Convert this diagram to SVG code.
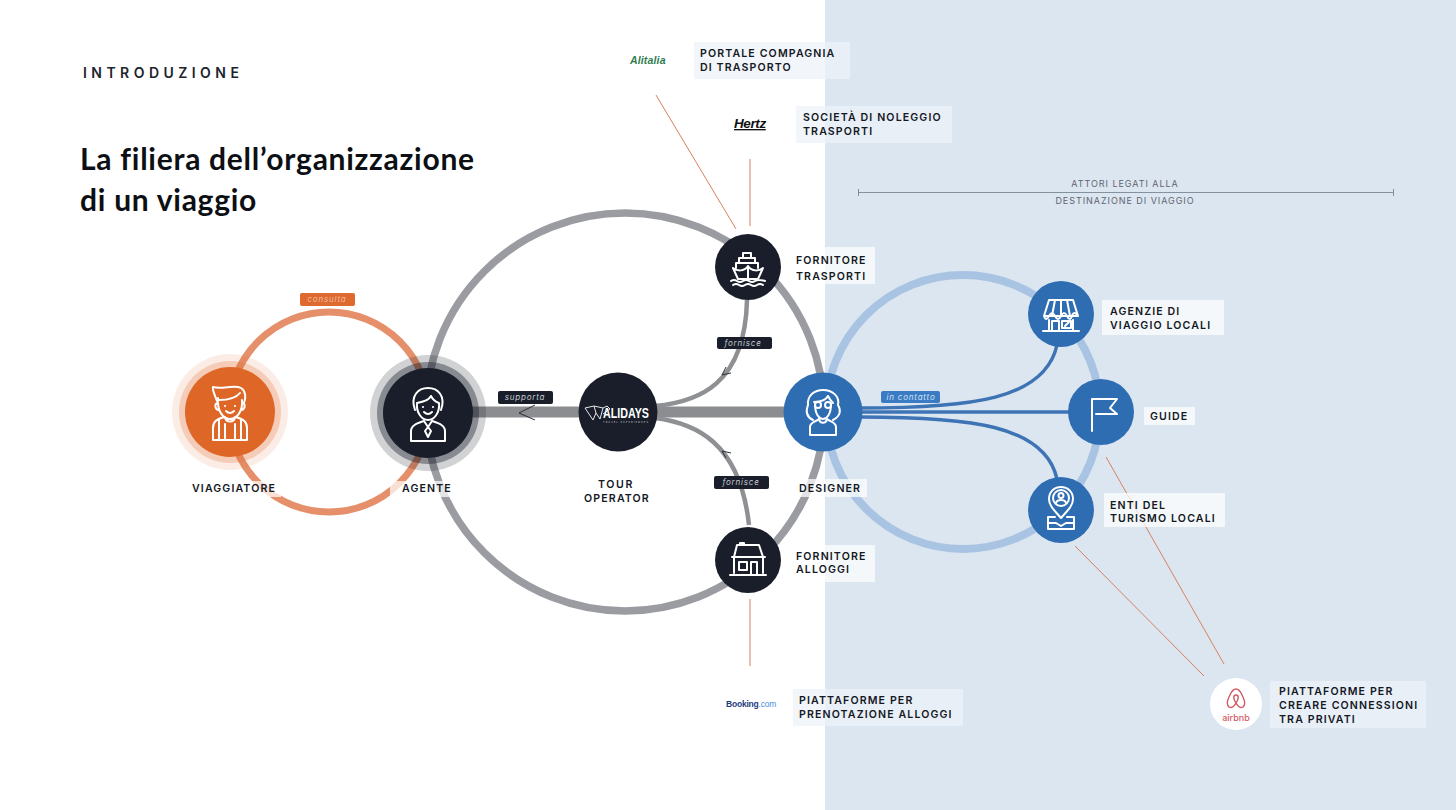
<svg xmlns="http://www.w3.org/2000/svg" width="1456" height="810" viewBox="0 0 1456 810">
<style>
text{font-family:Inter,"Liberation Sans",sans-serif}
.lb{font-size:10.6px;font-weight:600;letter-spacing:1.12px;fill:#14181f}
.box{fill:#fff;fill-opacity:.72}
.box2{fill:#eef2f8;fill-opacity:.75}
.mid{text-anchor:middle}
.tag{font-size:8px;font-style:italic;letter-spacing:.8px;text-anchor:middle;fill:#c6cad2}
.ic{fill:none;stroke:#fff;stroke-width:2;stroke-linejoin:round;stroke-linecap:round}
.red{stroke:#d9805c;stroke-width:1;fill:none}
.dk{fill:#191e2a}.bl{fill:#2f6db3}
.fl{fill:none;stroke:#3e74b5;stroke-width:3.5}
.gr{fill:none;stroke:#8e9094}
.ah{fill:none;stroke:#2a2e36;stroke-width:1}
.cap{font-size:9px;letter-spacing:.95px;fill:#5d6570;text-anchor:middle}
</style>
<rect width="1456" height="810" fill="#fff"/>
<rect x="825" y="0" width="631" height="810" fill="#dce6f1"/>
<text x="83" y="78" style="font-size:14px;font-weight:600;letter-spacing:4.45px;fill:#20242c">INTRODUZIONE</text>
<text x="80" y="170" style="font-family:Lato,sans-serif;font-size:30px;font-weight:700;letter-spacing:.73px;fill:#0c0f14">La filiera dell’organizzazione</text>
<text x="80" y="211" style="font-family:Lato,sans-serif;font-size:30px;font-weight:700;letter-spacing:.73px;fill:#0c0f14">di un viaggio</text>

<g id="connectors">
<circle cx="329" cy="412" r="100" fill="none" stroke="#e5906a" stroke-width="7"/>
<circle cx="625" cy="412" r="199" fill="none" stroke="#9a9ca1" stroke-width="7.500"/>
<circle cx="963" cy="412" r="137" fill="none" stroke="#a9c4e3" stroke-width="8"/>
<path class="gr" d="M470 412H786" stroke-width="11" style="stroke:#8b8d91"/>
<path class="gr" stroke-width="4.500" d="M655 406C698 402 745 385 747 300"/>
<path class="gr" stroke-width="4.500" d="M655 418C695 423 740 442 749 525"/>
<path class="ah" d="M535 405L519 413L535 420"/>
<path class="ah" d="M726 367L722 375L731 373"/>
<path class="ah" d="M726 458L722 451L731 453"/>
<path class="fl" d="M860 408C970 408 1045 400 1057 345"/>
<path class="fl" d="M860 412H1070"/>
<path class="fl" d="M860 417C970 417 1045 425 1057 479"/>
<path class="red" d="M656 95L736 229M750 159V226M750 599V666M1106 457L1224 664M1075 546L1204 676"/>
<path d="M858.500 189V196M858 192.500H1393M1393.500 189V196" fill="none" stroke="#6f7a88" stroke-width=".8"/>
</g>

<g id="tags">
<rect x="300" y="293" width="55" height="13" rx="2" fill="#de6a2f"/><text class="tag" x="327" y="302" style="fill:#f0b89b">consulta</text>
<rect x="498" y="391" width="55" height="13" rx="2" class="dk"/><text class="tag" x="525" y="400">supporta</text>
<rect x="717" y="337" width="55" height="12" rx="2" class="dk"/><text class="tag" x="743" y="346">fornisce</text>
<rect x="714" y="476" width="55" height="13" rx="2" class="dk"/><text class="tag" x="741" y="485">fornisce</text>
<rect x="881" y="391" width="59" height="12" rx="2" fill="#3a7bc4"/><text class="tag" x="911" y="400" style="fill:#cfe0f3">in contatto</text>
</g>

<g id="viaggiatore">
<circle cx="230" cy="412" r="58" fill="#de6a2f" opacity=".12"/><circle cx="230" cy="412" r="51" fill="#de6a2f" opacity=".25"/>
<circle cx="230" cy="412" r="45" fill="#de6626"/>
<path class="ic" d="M217 401C215 395 212 390 213 387C222 390 234 384 241 388C246 391 246 398 244 403M218 398C217 411 223 419 230 419C237 419 243 411 242 400M219 400C228 400 236 398 240 393M218 403C214 403 215 409 218 410M242 403C246 403 245 409 242 410M225 417C216 419 213 422 213 428V440H247V428C247 422 244 419 235 417M225 417C226 423 234 423 235 417M219 420V440M225 424V440M235 424V440M241 420V440"/>
<circle cx="225" cy="406" r="1.100" fill="#fff"/><circle cx="235" cy="406" r="1.100" fill="#fff"/>
<path class="ic" d="M226 411Q230 415 234 411" stroke-width="1.500"/>
<rect x="188" y="481" width="93" height="16" fill="#fff" fill-opacity=".72"/>
<text class="lb mid" x="234" y="492">VIAGGIATORE</text>
</g>

<g id="agente">
<circle cx="428" cy="413" r="58" fill="#191e2a" opacity=".2"/><circle cx="428" cy="413" r="51" fill="#191e2a" opacity=".4"/>
<circle cx="428" cy="413" r="45" class="dk"/>
<path class="ic" d="M415 410C410 396 418 388 428 388C438 388 446 396 441 410M417 403C416 413 422 420 428 420C434 420 440 413 439 403M417 403C423 402 429 400 431 396C433 400 436 402 439 403M411 441V431C411 425 418 423 424 421L428 427L432 421C438 423 445 425 445 431V441ZM428 427L425 431L428 437L431 431Z"/>
<circle cx="423" cy="407" r="1.100" fill="#fff"/><circle cx="433" cy="407" r="1.100" fill="#fff"/>
<path class="ic" d="M424 412Q428 416 432 412" stroke-width="1.500"/>
<rect x="390" y="481" width="68" height="16" fill="#fff" fill-opacity=".72"/>
<text class="lb mid" x="427" y="492">AGENTE</text>
</g>

<g id="tour-operator">
<circle cx="618" cy="412" r="39.500" class="dk"/>
<path d="M585 408L594 406L603 408L600 419L596 413L593 420L589 414ZM594 406L596 413M603 408L607 406L610 409L603 414" fill="none" stroke="#e6e7ea" stroke-width="1"/>
<text x="603" y="418" textLength="46" lengthAdjust="spacingAndGlyphs" style="font-family:'Liberation Sans',sans-serif;font-size:15.500px;font-weight:700;fill:#fff">ALIDAYS</text>
<text x="603" y="422.500" textLength="45" lengthAdjust="spacing" style="font-size:2.500px;fill:#c9ccd2">TRAVEL EXPERIENCES</text>
<text class="lb mid" x="616" y="488" style="letter-spacing:1.600px">TOUR</text>
<text class="lb mid" x="617" y="502">OPERATOR</text>
</g>

<g id="designer">
<circle cx="823" cy="412" r="39.500" class="bl"/>
<path class="ic" d="M813 420C805 416 806 410 808 405C807 395 815 390 823 390C832 390 840 396 838 405C841 410 841 416 833 420M814 402C820 402 826 400 828 396C830 400 832 402 833 403M815 404C815 414 819 419 823 419C827 419 831 414 831 404M810 435V427C810 422 816 422 819 419C820 424 826 424 827 419C830 422 836 422 836 427V435Z"/>
<circle cx="818" cy="405" r="3" class="ic" stroke-width="1.200"/><circle cx="828" cy="405" r="3" class="ic" stroke-width="1.200"/>
<rect x="795" y="479" width="72" height="18" class="box"/>
<text class="lb" x="799" y="492">DESIGNER</text>
</g>

<g id="fornitore-trasporti">
<circle cx="748" cy="267" r="33" class="dk"/>
<path class="ic" stroke-width="1.500" d="M743 253H751V258H743ZM739 263V258H755V263M736 268V263H758V268M733 268C737 271 744 272 748 266C752 272 759 271 763 268L758 279H738ZM748 266V279M731 281Q734 279 737 281T743 281T749 281T755 281T765 281M733 285Q736 283 739 285T745 285T751 285T757 285T763 285"/>
<rect x="790" y="247" width="85" height="37" class="box"/>
<text class="lb" x="796" y="264">FORNITORE</text><text class="lb" x="796" y="280">TRASPORTI</text>
</g>

<g id="fornitore-alloggi">
<circle cx="748" cy="560" r="33" class="dk"/>
<path class="ic" d="M734 573V557L737 545H759L763 557V573M732 557H765M730 575H766M739 562H747V570H739ZM751 575V562H757V575M740 545V543H744V545"/>
<rect x="790" y="545" width="85" height="37" class="box"/>
<text class="lb" x="796" y="560">FORNITORE</text><text class="lb" x="796" y="573">ALLOGGI</text>
</g>

<g id="alitalia">
<text x="630" y="64" style="font-family:'Liberation Sans',sans-serif;font-size:10.500px;font-weight:700;font-style:italic;letter-spacing:.15px;fill:#2f7d4f">Alitalia</text>
<rect x="694" y="42" width="156" height="37" class="box2"/>
<text class="lb" x="700" y="57">PORTALE COMPAGNIA</text><text class="lb" x="700" y="71">DI TRASPORTO</text>
</g>

<g id="hertz">
<text x="734" y="128" style="font-family:'Liberation Sans',sans-serif;font-size:13.500px;font-weight:700;font-style:italic;letter-spacing:-.4px;fill:#111;text-decoration:underline">Hertz</text>
<rect x="796" y="106" width="156" height="37" class="box2"/>
<text class="lb" x="803" y="121">SOCIETÀ DI NOLEGGIO</text><text class="lb" x="803" y="135">TRASPORTI</text>
</g>

<g id="booking">
<text x="726" y="707" style="font-family:'Liberation Sans',sans-serif;font-size:8.500px;font-weight:700;letter-spacing:-.2px;fill:#1e3c7d">Booking<tspan fill="#3f8fd8" font-weight="400">.com</tspan></text>
<rect x="793" y="689" width="170" height="37" class="box2"/>
<text class="lb" x="799" y="704">PIATTAFORME PER</text><text class="lb" x="799" y="718">PRENOTAZIONE ALLOGGI</text>
</g>

<g id="destinazione">
<text class="cap" x="1125" y="187">ATTORI LEGATI ALLA</text>
<text class="cap" x="1125" y="204">DESTINAZIONE DI VIAGGIO</text>
</g>

<g id="agenzie">
<circle cx="1061" cy="314" r="33" class="bl"/>
<path class="ic" stroke-width="1.500" d="M1049 300H1073L1078 316H1044ZM1044 316Q1046 322 1049 316T1055 316T1061 316T1067 316T1072 316T1078 316M1049 320V331M1073 320V331M1043 331H1079M1052 321H1059V331H1052ZM1062 321H1071V328H1062ZM1065 326L1069 322M1055 300L1052 316M1061 300V316M1067 300L1070 316"/>
<rect x="1102" y="300" width="122" height="35" class="box"/>
<text class="lb" x="1110" y="315">AGENZIE DI</text><text class="lb" x="1110" y="329">VIAGGIO LOCALI</text>
</g>

<g id="guide">
<circle cx="1101" cy="412" r="33" class="bl"/>
<path class="ic" d="M1092 431V399H1117L1110 408L1117 414H1096"/>
<rect x="1144" y="407" width="51" height="18" class="box"/>
<text class="lb" x="1150" y="420">GUIDE</text>
</g>

<g id="enti">
<circle cx="1061" cy="510" r="33" class="bl"/>
<path class="ic" stroke-width="1.600" d="M1061 518C1055 511 1049 506 1049 499C1049 492 1054 487 1061 487C1068 487 1073 492 1073 499C1073 506 1067 511 1061 518ZM1055 517H1048V529H1074V517H1067M1048 523H1056L1061 526L1066 523H1074"/>
<circle cx="1061" cy="498" r="8" class="ic" stroke-width="1.200"/><circle cx="1061" cy="495.500" r="2.500" class="ic" stroke-width="1.200"/><path class="ic" stroke-width="1.200" d="M1056 503C1057 499 1065 499 1066 503"/>
<rect x="1104" y="493" width="121" height="34" class="box"/>
<text class="lb" x="1110" y="509">ENTI DEL</text><text class="lb" x="1110" y="522">TURISMO LOCALI</text>
</g>

<g id="airbnb">
<circle cx="1236" cy="704" r="26" fill="#fff"/>
<path d="M1236 689C1232 689 1231 693 1229 697C1227 701 1226 704 1229 707C1232 709 1235 705 1236 703C1237 705 1240 709 1243 707C1246 704 1245 701 1243 697C1241 693 1240 689 1236 689ZM1236 703C1233 699 1233 695 1236 695C1239 695 1239 699 1236 703" fill="none" stroke="#d05a64" stroke-width="1.400"/>
<text x="1236" y="721" text-anchor="middle" style="font-size:9px;font-weight:500;fill:#d05a64">airbnb</text>
<rect x="1270" y="681" width="156" height="47" class="box2"/>
<text class="lb" x="1279" y="695">PIATTAFORME PER</text><text class="lb" x="1279" y="709">CREARE CONNESSIONI</text><text class="lb" x="1279" y="723">TRA PRIVATI</text>
</g>
</svg>
